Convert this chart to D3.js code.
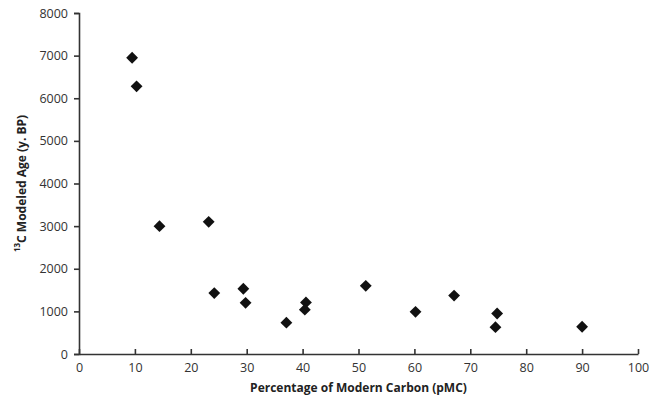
<!DOCTYPE html>
<html>
<head>
<meta charset="utf-8">
<script src="https://cdn.jsdelivr.net/npm/d3@7"></script>
<style>
  body { margin: 0; background: #fff; }
  text { font-family: "Open Sans", "Liberation Sans", sans-serif; fill: #222; }
</style>
</head>
<body>
<svg id="chart" width="660" height="404"></svg>
<script>
// Data
const pmc = [9.5, 10.3, 14.4, 23.2, 24.2, 29.4, 29.8, 37.1, 40.6, 40.4, 51.3, 60.2, 67.1, 74.8, 74.5, 90.0];
const age = [6950, 6280, 3000, 3100, 1430, 1530, 1200, 735, 1210, 1040, 1600, 990, 1370, 950, 630, 640];
const xTicks = [0, 10, 20, 30, 40, 50, 60, 70, 80, 90, 100];
const yTicks = [0, 1000, 2000, 3000, 4000, 5000, 6000, 7000, 8000];

const points = pmc.map((p, i) => ({ x: p, y: age[i] }));

// Layout
const margin = { top: 13, right: 22, bottom: 50, left: 79 };
const width = 660, height = 404;

const svg = d3.select('#chart');

let xScale = d3.scaleLinear()
  .domain([0, 100])
  .range([margin.left, width - margin.right]);

let yScale = d3.scaleLinear()
  .domain([0, 8000])
  .range([height - margin.bottom, margin.top]);

const axisColor = '#333';

// X axis, ticks pointing up into the plot
let xAxis = d3.axisBottom(xScale)
  .tickValues(xTicks)
  .tickFormat(d3.format('d'))
  .tickSizeInner(-5)
  .tickSizeOuter(0)
  .tickPadding(9);

let xGroup = svg.append('g')
  .attr('transform', `translate(0, ${yScale(0)})`)
  .call(xAxis);

// Y axis, ticks pointing left
let yAxis = d3.axisLeft(yScale)
  .tickValues(yTicks)
  .tickFormat(d3.format('d'))
  .tickSizeInner(5)
  .tickSizeOuter(5)
  .tickPadding(6);

let yGroup = svg.append('g')
  .attr('transform', `translate(${xScale(0)}, 0)`)
  .call(yAxis);

[xGroup, yGroup].forEach(g => {
  g.selectAll('path, line')
    .style('stroke', axisColor)
    .style('stroke-width', 1.6);
  g.selectAll('text')
    .style('font-size', '12.5px')
    .style('fill', '#333');
});

// Markers: black diamonds
let diamond = d3.symbol().type(d3.symbolSquare).size(70);

svg.append('g')
  .selectAll('path')
  .data(points)
  .join('path')
  .attr('d', diamond)
  .attr('transform', d => `translate(${xScale(d.x)}, ${yScale(d.y)}) rotate(45)`)
  .style('fill', '#111');

// Axis titles
svg.append('text')
  .attr('x', (xScale(0) + xScale(100)) / 2)
  .attr('y', 392)
  .attr('text-anchor', 'middle')
  .style('font-size', '12px')
  .style('font-weight', 'bold')
  .text('Percentage of Modern Carbon (pMC)');

let yTitle = svg.append('text')
  .attr('transform', `translate(24, ${(yScale(0) + yScale(8000)) / 2}) rotate(-90)`)
  .attr('text-anchor', 'middle')
  .style('font-size', '12px')
  .style('font-weight', 'bold');

yTitle.append('tspan')
  .attr('dy', '-0.45em')
  .style('font-size', '8px')
  .text('13');
yTitle.append('tspan')
  .attr('dy', '0.45em')
  .text('C Modeled Age (y. BP)');
</script>
</body>
</html>
